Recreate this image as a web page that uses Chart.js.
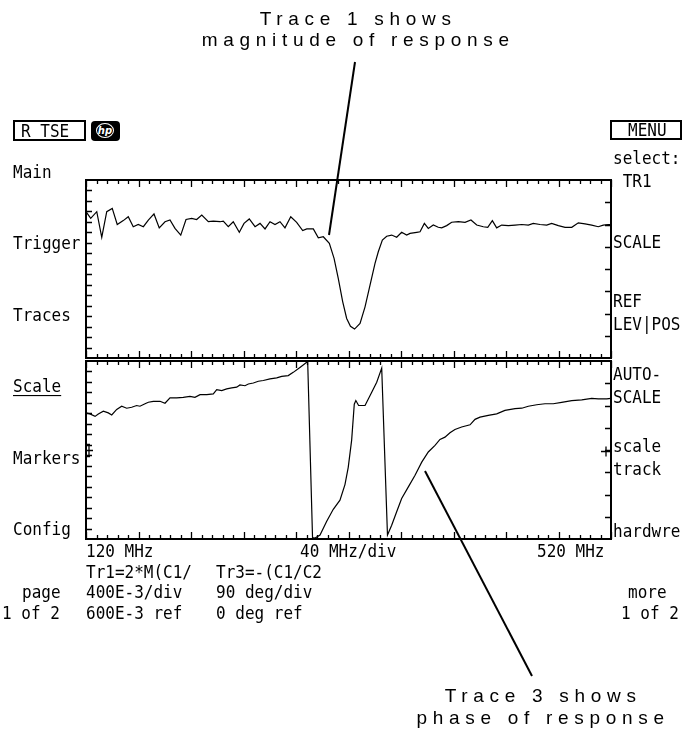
<!DOCTYPE html>
<html>
<head>
<meta charset="utf-8">
<script src="https://cdn.jsdelivr.net/npm/chart.js@4"></script>
<style>
  body { margin: 0; background: #fff; width: 684px; height: 738px; position: relative; overflow: hidden; }
  canvas { position: absolute; }
  .t { position: absolute; font-family: "DejaVu Sans Mono", monospace; font-size: 16px; line-height: 16px;
       white-space: pre; color: #000; transform: scaleY(1.12); transform-origin: 0 7.7px; }
  .note { position: absolute; width: 400px; text-align: center; font-family: "Liberation Sans", Arial, sans-serif;
          font-size: 19px; line-height: 19px; letter-spacing: 5.7px; padding-left: 5.7px; white-space: pre; color: #000; }
  .box { position: absolute; border: 2px solid #000; box-sizing: border-box; }
  #hp { position: absolute; left: 91px; top: 121px; width: 29px; height: 20px; background: #000; border-radius: 4px; }
  #hp div { position: absolute; left: 5px; top: 2px; width: 16px; height: 13px; border: 1.5px solid #fff; border-radius: 50%;
            color: #fff; font: italic bold 10px "DejaVu Sans", sans-serif; line-height: 13px; text-align: center; }
  svg { position: absolute; left: 0; top: 0; }
</style>
</head>
<body>
<canvas id="tr1" width="545" height="198" style="left:76px;top:170px"></canvas>
<canvas id="tr3" width="545" height="198" style="left:76px;top:351px"></canvas>
<div class="box" style="left:13px;top:120px;width:73px;height:21px"></div>
<div id="hp"><div>hp</div></div>
<div class="box" style="left:610px;top:120px;width:72px;height:20px"></div>
<svg width="684" height="738">
  <line x1="355" y1="62" x2="329" y2="235" stroke="#000" stroke-width="2"/>
  <line x1="425" y1="471" x2="532" y2="676" stroke="#000" stroke-width="2"/>
</svg>
<script>
// sweep: 120 - 520 MHz, 40 MHz/div
const freqStart = 120, freqStop = 520, freqPerDiv = 40, freqMinor = 8;

// Tr1 = 2*M(C1/C2): 400E-3/div, 600E-3 ref
const tr1Ref = 0.6, tr1PerDiv = 0.4;
const freqTr1 = [120.0, 123.6, 128.2, 132.0, 135.8, 140.0, 143.8, 148.4, 152.2, 156.0, 159.8, 163.7, 167.5, 171.8,
  175.8, 180.2, 184.0, 187.8, 192.2, 196.2, 200.5, 204.3, 208.2, 213.2, 217.0, 222.1, 224.6, 228.4, 232.2, 236.8,
  240.4, 244.4, 248.8, 252.6, 256.4, 260.2, 264.0, 267.8, 271.6, 276.0, 280.5, 285.1, 288.2, 293.2, 297.0, 300.8,
  305.4, 309.0, 312.2, 315.6, 318.6, 321.5, 324.6, 328.8, 332.6, 336.4, 340.2, 342.7, 345.8, 349.1, 352.9, 356.7,
  360.5, 364.3, 366.9, 372.0, 374.5, 377.8, 380.8, 384.6, 388.4, 391.0, 394.8, 398.6, 403.7, 408.8, 413.3, 417.7,
  422.7, 426.1, 429.6, 432.9, 436.7, 441.8, 446.9, 452.0, 457.0, 460.8, 465.9, 471.0, 474.8, 479.9, 485.0, 490.1,
  495.1, 500.2, 505.3, 510.3, 514.1, 517.9, 520.0];
const magTr1 = [1.63, 1.51, 1.63, 1.17, 1.63, 1.69, 1.40, 1.47, 1.54, 1.36, 1.40, 1.36, 1.48, 1.59,
  1.34, 1.45, 1.48, 1.33, 1.21, 1.49, 1.51, 1.49, 1.57, 1.45, 1.46, 1.45, 1.46, 1.36, 1.45, 1.26,
  1.42, 1.50, 1.36, 1.42, 1.32, 1.45, 1.40, 1.45, 1.34, 1.54, 1.44, 1.29, 1.32, 1.32, 1.16, 1.18,
  1.06, 0.79, 0.43, 0.01, -0.29, -0.43, -0.48, -0.38, -0.08, 0.31, 0.70, 0.91, 1.12, 1.19, 1.21, 1.17,
  1.26, 1.21, 1.24, 1.26, 1.27, 1.42, 1.33, 1.39, 1.35, 1.34, 1.38, 1.44, 1.45, 1.44, 1.48, 1.39,
  1.36, 1.35, 1.47, 1.34, 1.39, 1.38, 1.39, 1.40, 1.39, 1.42, 1.40, 1.39, 1.42, 1.38, 1.35, 1.35,
  1.43, 1.41, 1.39, 1.36, 1.39, 1.40, 1.40];

// Tr3 = -(C1/C2) phase: 90 deg/div, 0 deg ref
const tr3Ref = 0, tr3PerDiv = 90;
const freqTr3 = [120.0, 123.0, 126.9, 129.4, 133.2, 137.0, 139.6, 143.4, 147.2, 151.0, 154.8, 158.6, 161.1, 165.0,
  167.5, 171.3, 176.4, 180.2, 184.0, 189.1, 194.1, 199.2, 203.0, 206.9, 212.0, 217.0, 219.6, 223.4, 227.2, 231.0,
  234.8, 237.3, 241.1, 243.7, 247.5, 251.3, 255.1, 260.2, 265.3, 269.1, 274.1, 277.9, 283.0, 288.9, 292.6, 294.5,
  298.3, 303.4, 308.4, 313.5, 317.3, 319.8, 322.4, 324.4, 325.6, 327.7, 332.6, 337.7, 341.5, 345.3, 349.7, 352.9,
  356.7, 360.5, 365.6, 370.7, 375.8, 380.8, 385.9, 389.7, 393.5, 397.3, 401.1, 406.2, 412.6, 416.4, 420.2, 426.5,
  432.9, 439.2, 446.9, 452.0, 457.0, 463.4, 469.7, 476.0, 482.4, 490.1, 497.7, 505.3, 510.3, 516.7, 520.0];
const phaseTr3 = [150, 146, 136, 146, 157, 150, 142, 164, 177, 169, 173, 180, 177, 187,
  193, 197, 197, 189, 211, 211, 213, 217, 213, 224, 224, 227, 244, 240, 247, 251,
  254, 263, 260, 267, 271, 278, 281, 288, 292, 298, 301, 314, 334, 358, -354, -356,
  -344, -288, -240, -203, -140, -70, 40, 185, 200, 180, 180, 234, 274, 331, -344, -304,
  -250, -196, -149, -102, -49, -8, 19, 43, 52, 70, 83, 93, 102, 124, 133, 140,
  146, 160, 167, 169, 177, 183, 187, 187, 193, 200, 203, 209, 207, 207, 209];

// screen texts
const leftKeys = ['Main', 'Trigger', 'Traces', 'Scale', 'Markers', 'Config'];
const rightKeys = ['select:', ' TR1', 'SCALE', 'REF', 'LEV|POS', 'AUTO-', 'SCALE', 'scale', 'track', 'hardwre'];
const freqLabels = ['120 MHz', '40 MHz/div', '520 MHz'];
const tr1Info = ['Tr1=2*M(C1/', '400E-3/div', '600E-3 ref'];
const tr3Info = ['Tr3=-(C1/C2', '90 deg/div', '0 deg ref'];
const pageInfo = ['page', '1 of 2'];
const moreInfo = ['more', '1 of 2'];
const notes = ['Trace 1 shows', 'magnitude of response', 'Trace 3 shows', 'phase of response'];

function put(text, x, cy, cls) {
  const d = document.createElement('div');
  d.className = cls || 't';
  d.textContent = text;
  d.style.left = x + 'px';
  d.style.top = (cy - 7.7) + 'px';
  document.body.appendChild(d);
  return d;
}

put('R TSE', 21, 130.5);
put('MENU', 628, 130);
const leftY = [171.5, 243, 314.5, 386, 457.5, 529];
leftKeys.forEach((k, i) => {
  const d = put(k, 13, leftY[i]);
  if (k === 'Scale') { d.style.textDecoration = 'underline'; d.style.textUnderlineOffset = '3px'; }
});
const rightY = [157.5, 180.5, 241.5, 301, 324, 374, 396.5, 446, 469, 530.5];
rightKeys.forEach((k, i) => put(k, 613, rightY[i]));
[86, 300, 537].forEach((x, i) => put(freqLabels[i], x, 551));
const infoY = [571.5, 592, 612.5];
tr1Info.forEach((s, i) => put(s, 86, infoY[i]));
tr3Info.forEach((s, i) => put(s, 216, infoY[i]));
put(pageInfo[0], 22, 592); put(pageInfo[1], 2, 612.5);
put(moreInfo[0], 628, 592); put(moreInfo[1], 621, 612.5);

[[352.5, 25], [352.5, 46], [537.5, 702], [537.5, 724]].forEach(([cx, base], i) => {
  const d = document.createElement('div');
  d.className = 'note';
  d.textContent = notes[i];
  d.style.left = (cx - 200) + 'px';
  d.style.top = (base - 16) + 'px';
  document.body.appendChild(d);
});

// frame and inward ticks, placed through the chart scales
const frame = {
  id: 'frame',
  afterDraw(chart, args, o) {
    const { ctx, chartArea: a, scales: { x, y } } = chart;
    ctx.save();
    ctx.strokeStyle = '#000';
    ctx.lineWidth = 1.3;
    ctx.beginPath();
    for (let v = x.min; v <= x.max + 1e-6; v += o.xMinor) {
      const px = Math.round(x.getPixelForValue(v)) + 0.5;
      const k = (v - x.min) / o.xMajor;
      const len = Math.abs(k - Math.round(k)) < 1e-6 ? 7 : 4;
      ctx.moveTo(px, a.top); ctx.lineTo(px, a.top + len);
      ctx.moveTo(px, a.bottom); ctx.lineTo(px, a.bottom - len);
    }
    for (let v = y.min + o.yStep; v < y.max - 1e-6; v += o.yStep) {
      const py = Math.round(y.getPixelForValue(v)) + 0.5;
      ctx.moveTo(a.right, py); ctx.lineTo(a.right - 6, py);
    }
    for (let k = 1; k < o.leftCount; k++) {
      const py = Math.round(y.getPixelForValue(y.min + k * (y.max - y.min) / o.leftCount)) + 0.5;
      ctx.moveTo(a.left, py); ctx.lineTo(a.left + 6, py);
    }
    if (o.refMark) {
      const py = Math.round(y.getPixelForValue(o.ref)) + 0.5;
      ctx.moveTo(a.left + 3, py - 6); ctx.lineTo(a.left + 3, py + 6);
      ctx.moveTo(a.left, py - 6); ctx.lineTo(a.left + 4, py - 6);
      ctx.moveTo(a.left, py + 6); ctx.lineTo(a.left + 4, py + 6);
      ctx.moveTo(a.left, py); ctx.lineTo(a.left + 7, py);
      ctx.moveTo(a.right - 10, py + 1); ctx.lineTo(a.right, py + 1);
      ctx.moveTo(a.right - 5, py - 4); ctx.lineTo(a.right - 5, py + 6);
    }
    ctx.stroke();
    ctx.lineWidth = 2;
    ctx.strokeRect(a.left, a.top, a.right - a.left, a.bottom - a.top);
    ctx.restore();
  }
};

function traceChart(id, freqs, vals, ref, perDiv, refMark) {
  return new Chart(document.getElementById(id), {
    type: 'line',
    data: {
      datasets: [{
        data: freqs.map((f, i) => ({ x: f, y: vals[i] })),
        borderColor: '#000',
        borderWidth: 1.2,
        pointRadius: 0,
        tension: 0
      }]
    },
    options: {
      responsive: false,
      animation: false,
      devicePixelRatio: 1,
      layout: { padding: 10 },
      plugins: {
        legend: { display: false },
        tooltip: { enabled: false },
        frame: { xMinor: freqMinor, xMajor: freqPerDiv, yStep: perDiv, leftCount: 17, ref: ref, refMark: refMark }
      },
      scales: {
        x: { type: 'linear', min: freqStart, max: freqStop, display: false },
        y: { type: 'linear', min: ref - 4 * perDiv, max: ref + 4 * perDiv, display: false }
      }
    },
    plugins: [frame]
  });
}

traceChart('tr1', freqTr1, magTr1, tr1Ref, tr1PerDiv, false);
traceChart('tr3', freqTr3, phaseTr3, tr3Ref, tr3PerDiv, true);
</script>
</body>
</html>
